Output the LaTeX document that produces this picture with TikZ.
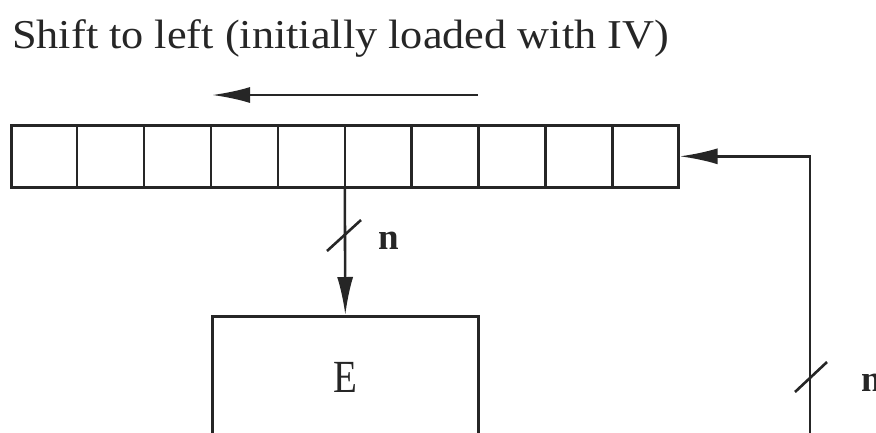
\documentclass[tikz,border=0pt]{standalone}
\usepackage{fontspec}
\setmainfont{Liberation Serif}
\usetikzlibrary{arrows.meta,calc}
\begin{document}
\begin{tikzpicture}[x=1pt,y=-1pt,
  wire/.style={line width=2.6pt, draw=black!85},
  tip/.style={-{Latex[length=38pt,width=16pt]}},
  slashmark/.style={line width=2.6pt, draw=black!85},
  lbl/.style={font=\fontsize{37}{40}\selectfont\bfseries, text=black!85},
  box/.style={draw=black!85, line width=2.6pt, rectangle, inner sep=0pt}]
\useasboundingbox (0,0) rectangle (876,432);
% title
\node[anchor=base west, font=\fontsize{41}{44}\selectfont, text=black!85, inner sep=0pt] (title) at (12,48) {\scalebox{1.08}[1]{Shift to left (initially loaded with IV)}};
% shift arrow
\coordinate (aR) at (478,95);
\coordinate (aL) at (212,95);
\draw[wire, tip] (aR) -- (aL);
% register
\node[box, minimum width=667pt, minimum height=62pt, anchor=north west] (reg) at (10,124) {};
\foreach \i in {1,...,9} {
  \draw[wire] ($(reg.north west)!\i/10!(reg.north east)$) -- ($(reg.south west)!\i/10!(reg.south east)$);
}
% E box
\node[box, minimum width=266pt, minimum height=200pt, anchor=north west,
      label={[anchor=center, yshift=-62pt, text=black!85, font=\fontsize{46}{48}\selectfont]north:\scalebox{0.85}[1]{E}}] (E) at (211,315) {};
\draw[wire, tip] (reg.south) -- (E.north);
% slash on down connector
\coordinate (s1) at (327,251);
\coordinate (s2) at (361,220);
\draw[slashmark] (s1) -- (s2);
\node[lbl] (n1) at (389,241) {n};
% feedback
\coordinate (fb) at (810,440);
\draw[wire, tip] (fb) |- (reg.east);
\coordinate (s3) at (795,392);
\coordinate (s4) at (827,362);
\draw[slashmark] (s3) -- (s4);
\node[lbl, anchor=west, inner sep=0pt] (n2) at (861,383) {n};
\end{tikzpicture}
\end{document}
